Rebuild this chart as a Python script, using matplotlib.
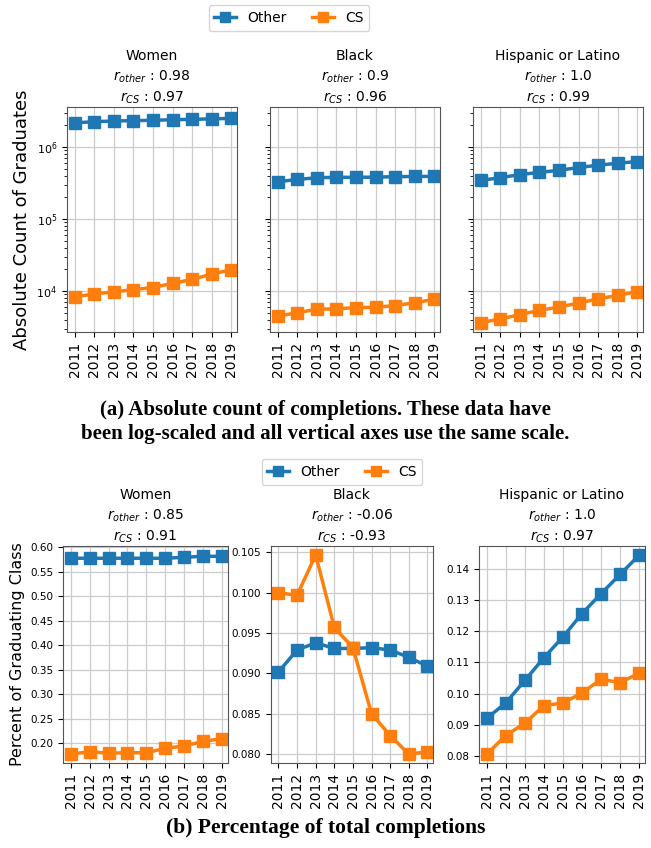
import matplotlib.pyplot as plt
import numpy as np

# ---------------- data ----------------
years = [2011, 2012, 2013, 2014, 2015, 2016, 2017, 2018, 2019]
groups = ["Women", "Black", "Hispanic or Latino"]

# absolute counts (log scale)
abs_other = {
    "Women": [2.17e6, 2.25e6, 2.30e6, 2.33e6, 2.35e6, 2.40e6, 2.42e6, 2.47e6, 2.50e6],
    "Black": [3.30e5, 3.55e5, 3.75e5, 3.80e5, 3.80e5, 3.82e5, 3.88e5, 3.90e5, 3.92e5],
    "Hispanic or Latino": [3.45e5, 3.75e5, 4.15e5, 4.45e5, 4.75e5, 5.20e5, 5.60e5, 5.95e5, 6.30e5],
}
abs_cs = {
    "Women": [8200, 9200, 9700, 10500, 11200, 12800, 14500, 17200, 19700],
    "Black": [4500, 5000, 5600, 5650, 5900, 5950, 6300, 6850, 7700],
    "Hispanic or Latino": [3650, 4100, 4700, 5400, 6000, 6800, 7800, 8700, 9800],
}
abs_r_other = ["0.98", "0.9", "1.0"]
abs_r_cs = ["0.97", "0.96", "0.99"]

# share of graduating class
pct_other = {
    "Women": [0.578, 0.578, 0.578, 0.578, 0.578, 0.578, 0.580, 0.582, 0.582],
    "Black": [0.0902, 0.0929, 0.0938, 0.0931, 0.0931, 0.0932, 0.0929, 0.0920, 0.0909],
    "Hispanic or Latino": [0.0920, 0.0970, 0.1042, 0.1115, 0.1182, 0.1257, 0.1321, 0.1383, 0.1445],
}
pct_cs = {
    "Women": [0.178, 0.183, 0.180, 0.181, 0.181, 0.190, 0.195, 0.204, 0.210],
    "Black": [0.1000, 0.0997, 0.1047, 0.0957, 0.0932, 0.0850, 0.0823, 0.0800, 0.0803],
    "Hispanic or Latino": [0.0805, 0.0865, 0.0905, 0.0961, 0.0970, 0.1002, 0.1046, 0.1035, 0.1066],
}
pct_r_other = ["0.85", "-0.06", "1.0"]
pct_r_cs = ["0.91", "-0.93", "0.97"]
pct_ylims = [(0.16, 0.603), (0.0789, 0.1058), (0.0777, 0.1474)]

# ---------------- figure ----------------
W, H = 651, 848
fig = plt.figure(figsize=(W / 100, H / 100), dpi=100)


def px_axes(x0, y0, x1, y1):
    # pixel box (top-left origin) -> figure axes
    return fig.add_axes([x0 / W, 1 - y1 / H, (x1 - x0) / W, (y1 - y0) / H])


def style_ax(ax, title):
    ax.set_title(title, fontsize=10, linespacing=1.4, pad=4)
    ax.grid(True, which="major", color="#cccccc", linewidth=0.9)
    ax.set_xticks(years)
    ax.set_xticklabels([str(y) for y in years], rotation=90, fontsize=10)
    ax.set_xlim(years[0] - 0.4, years[-1] + 0.3)
    for s in ax.spines.values():
        s.set_color("#555555")
    ax.set_axisbelow(True)


line_kw = dict(marker="s", markersize=8.5, linewidth=2.5)
leg_kw = dict(loc="center", ncol=2, fontsize=10, handlelength=1.6,
              columnspacing=1.8, handletextpad=0.8, markerscale=0.85)

# top row: absolute counts
top_x = [(67, 237), (270, 440), (473, 643)]
for i, g in enumerate(groups):
    ax = px_axes(top_x[i][0], 107, top_x[i][1], 332)
    ax.plot(years, abs_other[g], color="tab:blue", label="Other", **line_kw)
    ax.plot(years, abs_cs[g], color="tab:orange", label="CS", **line_kw)
    ax.set_yscale("log")
    ax.set_ylim(2.7e3, 3.6e6)
    title = g + "\n$r_{other}$ : " + abs_r_other[i] + "\n$r_{CS}$ : " + abs_r_cs[i]
    style_ax(ax, title)
    ax.tick_params(axis="y", labelsize=8)
    if i == 0:
        ax.set_ylabel("Absolute Count of Graduates", fontsize=13)
        handles, labels = ax.get_legend_handles_labels()
    else:
        ax.tick_params(axis="y", which="both", labelleft=False)

fig.legend(handles, labels, bbox_to_anchor=(289 / W, 1 - 18 / H), **leg_kw)

fig.text(0.5, 1 - 422 / H,
         "(a) Absolute count of completions. These data have\n"
         "been log-scaled and all vertical axes use the same scale.",
         ha="center", va="center", fontsize=15, fontweight="bold",
         family="Liberation Serif", linespacing=1.3)

# bottom row: percentages
bot_x = [(63, 228), (271, 433), (479, 645)]
for i, g in enumerate(groups):
    ax = px_axes(bot_x[i][0], 546, bot_x[i][1], 763)
    ax.plot(years, pct_other[g], color="tab:blue", label="Other", **line_kw)
    ax.plot(years, pct_cs[g], color="tab:orange", label="CS", **line_kw)
    ax.set_ylim(*pct_ylims[i])
    title = g + "\n$r_{other}$ : " + pct_r_other[i] + "\n$r_{CS}$ : " + pct_r_cs[i]
    style_ax(ax, title)
    ax.tick_params(axis="y", labelsize=7.5)
    if i == 0:
        ax.set_ylabel("Percent of Graduating Class", fontsize=11.5)
        handles, labels = ax.get_legend_handles_labels()

fig.legend(handles, labels, bbox_to_anchor=(342 / W, 1 - 472 / H), **leg_kw)

fig.text(0.5, 1 - 828 / H, "(b) Percentage of total completions",
         ha="center", va="center", fontsize=15.5, fontweight="bold",
         family="Liberation Serif")

plt.savefig("out.png", dpi=100)
